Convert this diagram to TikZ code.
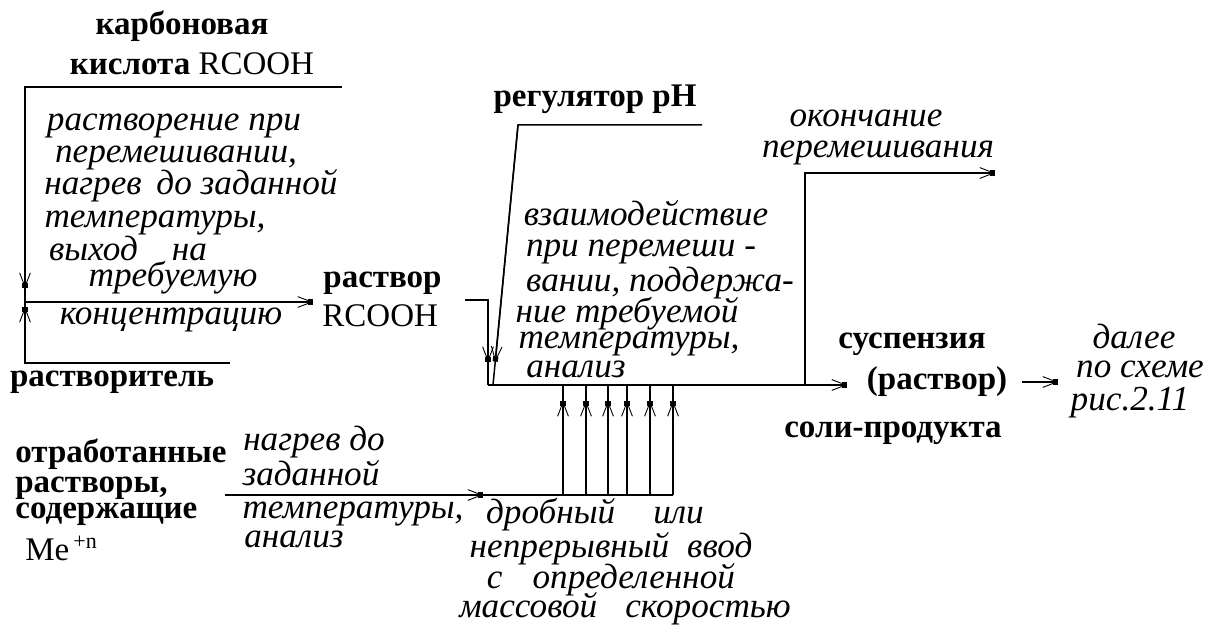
\documentclass[tikz,border=0pt]{standalone}
\usepackage{fontspec}
\setmainfont{Liberation Serif}
\usetikzlibrary{arrows.meta,calc}
\tikzset{
  wire/.style={line width=0.75pt},
  tip/.style={line width=0.75pt,
    -{Straight Barb[length=7pt,width=5.4pt,line width=0.45pt,sep=-2.6pt]Square[length=2.6pt,width=2.6pt]}},
  head/.style={font=\fontsize{16.5}{18}\selectfont\bfseries, inner sep=0pt},
  note/.style={font=\fontsize{17.6}{19}\selectfont\itshape, inner sep=0pt, anchor=base},
}
\begin{document}
\begin{tikzpicture}[x=0.5pt,y=-0.5pt]
\useasboundingbox (0,0) rectangle (1208,630);

% ---------- substance labels ----------
\node[head,anchor=base] (acidA) at (182,35) {карбоновая};
\node[head,anchor=base] (acidB) at (192,75) {кислота {\mdseries RCOOH}};
\node[head,anchor=base] (solv) at (112,386) {растворитель};
\node[head,anchor=base west] (solA) at (323,288) {раствор};
\node[head,anchor=base west] (solB) at (322,327) {\mdseries RCOOH};
\node[head,anchor=base] (reg) at (595,107) {регулятор pH};
\node[head,anchor=base] (suspA) at (912,348) {суспензия};
\node[head,anchor=base] (suspB) at (937,389) {(раствор)};
\node[head,anchor=base] (suspC) at (893,437) {соли-продукта};
\node[head,anchor=base west] (wasteA) at (15,462) {отработанные};
\node[head,anchor=base west] (wasteB) at (15,492) {растворы,};
\node[head,anchor=base west] (wasteC) at (15,518) {содержащие};
\node[head,anchor=base west] (wasteD) at (25,560)
  {\mdseries Me\hspace{2pt}\raisebox{6pt}{\fontsize{11}{11}\selectfont +n}};

% ---------- dissolution step ----------
\node[note] (dis1) at (174,131) {растворение при};
\node[note] (dis2) at (176,163) {перемешивании,};
\node[note] (dis3) at (191,195) {нагрев\hspace{3pt} до заданной};
\node[note] (dis4) at (155,228) {температуры,};
\node[note] (dis5) at (128,261) {выход\hspace{17pt}на};
\node[note] (dis6) at (173,287) {требуемую};
\node[note] (dis7) at (171,324) {концентрацию};

% ---------- reaction step ----------
\node[note] (rx1) at (646,226) {взаимодействие};
\node[note] (rx2) at (641,257) {при перемеши -};
\node[note] (rx3) at (660,292) {вании, поддержа-};
\node[note] (rx4) at (627,322) {ние требуемой};
\node[note] (rx5) at (629,349) {температуры,};
\node[note] (rx6) at (576,377) {анализ};

\node[note] (stop1) at (866,127) {окончание};
\node[note] (stop2) at (878,158) {перемешивания};

\node[note] (next1) at (1134,348) {далее};
\node[note] (next2) at (1140,377) {по схеме};
\node[note] (next3) at (1130,410) {рис.2.11};

% ---------- heating of spent solutions ----------
\node[note] (heat1) at (314,450) {нагрев до};
\node[note] (heat2) at (311,485) {заданной};
\node[note] (heat3) at (353,518) {температуры,};
\node[note] (heat4) at (294,547) {анализ};

\node[note] (feed1) at (595,523) {дробный\hspace{19pt}или};
\node[note] (feed2) at (611,557) {непрерывный\hspace{9pt}ввод};
\node[note] (feed3) at (611,588) {с\hspace{15pt}определенной};
\node[note] (feed4) at (625,617) {массовой\hspace{14pt}скоростью};

% ---------- connector points ----------
\coordinate (acidEnd) at (342,87);
\coordinate (acidCorner) at (25,87);
\coordinate (join) at (25,302);
\coordinate (joinDownTip) at (25,288);
\coordinate (solvEnd) at (230,363);
\coordinate (solvCorner) at (25,363);
\coordinate (joinUpTip) at (25,307);
\coordinate (solTip) at (313,302);

\coordinate (rcStart) at (465,300);
\coordinate (rcCorner) at (488,300);
\coordinate (boxL) at (488,385);
\coordinate (rcTip) at (488,362);

\coordinate (regEnd) at (702,125);
\coordinate (regCorner) at (518,125);
\coordinate (regFoot) at (493,385);
\coordinate (regTip) at ($(regCorner)!0.91!(regFoot)$);

\coordinate (outTip) at (847,385);
\coordinate (stopFoot) at (805,385);
\coordinate (stopCorner) at (805,173);
\coordinate (stopTip) at (995,173);
\coordinate (nextStart) at (1022,382);
\coordinate (nextTip) at (1058,382);

\coordinate (wasteStart) at (225,495);
\coordinate (wasteTip) at (483,495);
\coordinate (busEnd) at (673,495);

% ---------- connectors ----------
\draw[wire] (acidEnd) -- (acidCorner) -- (join);
\draw[tip] (acidCorner) -- (joinDownTip);
\draw[wire] (solvEnd) -- (solvCorner) -- (join);
\draw[tip] (solvCorner) -- (joinUpTip);
\draw[tip] (join) -- (solTip);

\draw[wire] (rcStart) -- (rcCorner) -- (boxL);
\draw[tip] (rcCorner) -- (rcTip);
\draw[wire] (regEnd) -- (regCorner) -- (regFoot);
\draw[tip] (regCorner) -- (regTip);

\draw[tip] (boxL) -- (outTip);
\draw[tip] (stopFoot) -- (stopCorner) -- (stopTip);
\draw[tip] (nextStart) -- (nextTip);

\draw[tip] (wasteStart) -- (wasteTip);
\draw[wire] (wasteTip) -- (busEnd);
\foreach \x [count=\i] in {563,586,608,627,650,673} {
  \coordinate (feedB\i) at (\x,495);
  \coordinate (feedT\i) at (\x,385);
  \coordinate (feedTip\i) at (\x,401);
  \draw[wire] (feedB\i) -- (feedT\i);
  \draw[tip] (feedB\i) -- (feedTip\i);
}
\end{tikzpicture}
\end{document}
